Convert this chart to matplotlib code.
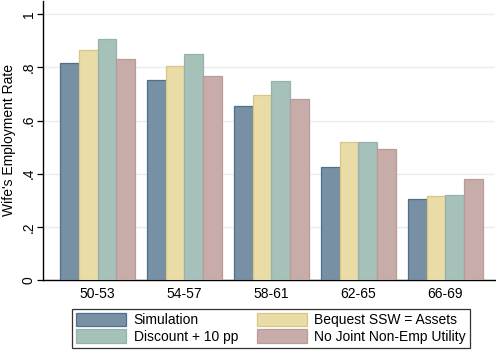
import matplotlib
matplotlib.use("Agg")
import matplotlib.pyplot as plt
import numpy as np

age_groups = ["50-53", "54-57", "58-61", "62-65", "66-69"]
simulation = [0.816, 0.752, 0.654, 0.424, 0.303]
bequest_ssw = [0.866, 0.804, 0.695, 0.518, 0.315]
discount_10pp = [0.907, 0.851, 0.749, 0.518, 0.319]
no_joint_util = [0.831, 0.768, 0.681, 0.493, 0.380]

series = [
    ("Simulation", simulation, "#7890A4", "#4F6F8A"),
    ("Bequest SSW = Assets", bequest_ssw, "#E9DCA6", "#D9C683"),
    ("Discount + 10 pp", discount_10pp, "#A6C0BA", "#96B2AB"),
    ("No Joint Non-Emp Utility", no_joint_util, "#C7ACA9", "#B99C99"),
]

plt.rcParams["font.family"] = ["Liberation Sans", "DejaVu Sans"]

fig = plt.figure(figsize=(4.96, 3.52), dpi=100)
ax = fig.add_axes([0.087, 0.205, 0.911, 0.792])

x = np.arange(len(age_groups))
w = 0.215
handles = {}
for i, (name, vals, fc, ec) in enumerate(series):
    bars = ax.bar(x + (i - 1.5) * w, vals, width=w, color=fc, edgecolor=ec,
                  linewidth=0.9, zorder=3, label=name)
    handles[name] = bars

ax.set_xlim(-0.625, 4.57)
ax.set_ylim(0, 1.05)
ax.set_yticks([0, 0.2, 0.4, 0.6, 0.8, 1.0])
ax.set_yticklabels(["0", ".2", ".4", ".6", ".8", "1"], rotation=90, va="center")
ax.set_xticks(x)
ax.set_xticklabels(age_groups)
ax.tick_params(axis="y", labelsize=10, length=4.5, width=0.9, pad=1)
ax.tick_params(axis="x", labelsize=10, length=0, pad=5)
ax.yaxis.grid(True, color="#E6EFF0", linewidth=1.0, zorder=0)
ax.set_axisbelow(True)
for s in ["top", "right"]:
    ax.spines[s].set_visible(False)
ax.spines["left"].set_linewidth(1.0)
ax.spines["bottom"].set_linewidth(1.0)
ax.set_ylabel("Wife's Employment Rate", fontsize=10)
ax.yaxis.set_label_coords(-0.06, 0.5)

order = ["Simulation", "Discount + 10 pp", "Bequest SSW = Assets", "No Joint Non-Emp Utility"]
leg = fig.legend([handles[n] for n in order], order, ncol=2,
                 bbox_to_anchor=(72 / 496, 1 - 348 / 352, 398 / 496, 43 / 352),
                 loc="lower left", mode="expand", fontsize=10, frameon=True,
                 fancybox=False, edgecolor="black", handlelength=3.6,
                 handleheight=1.1, handletextpad=0.55, borderpad=0.3,
                 labelspacing=0.15, columnspacing=1.0, borderaxespad=0)
leg.get_frame().set_linewidth(0.9)

fig.savefig("out.png", dpi=100)
